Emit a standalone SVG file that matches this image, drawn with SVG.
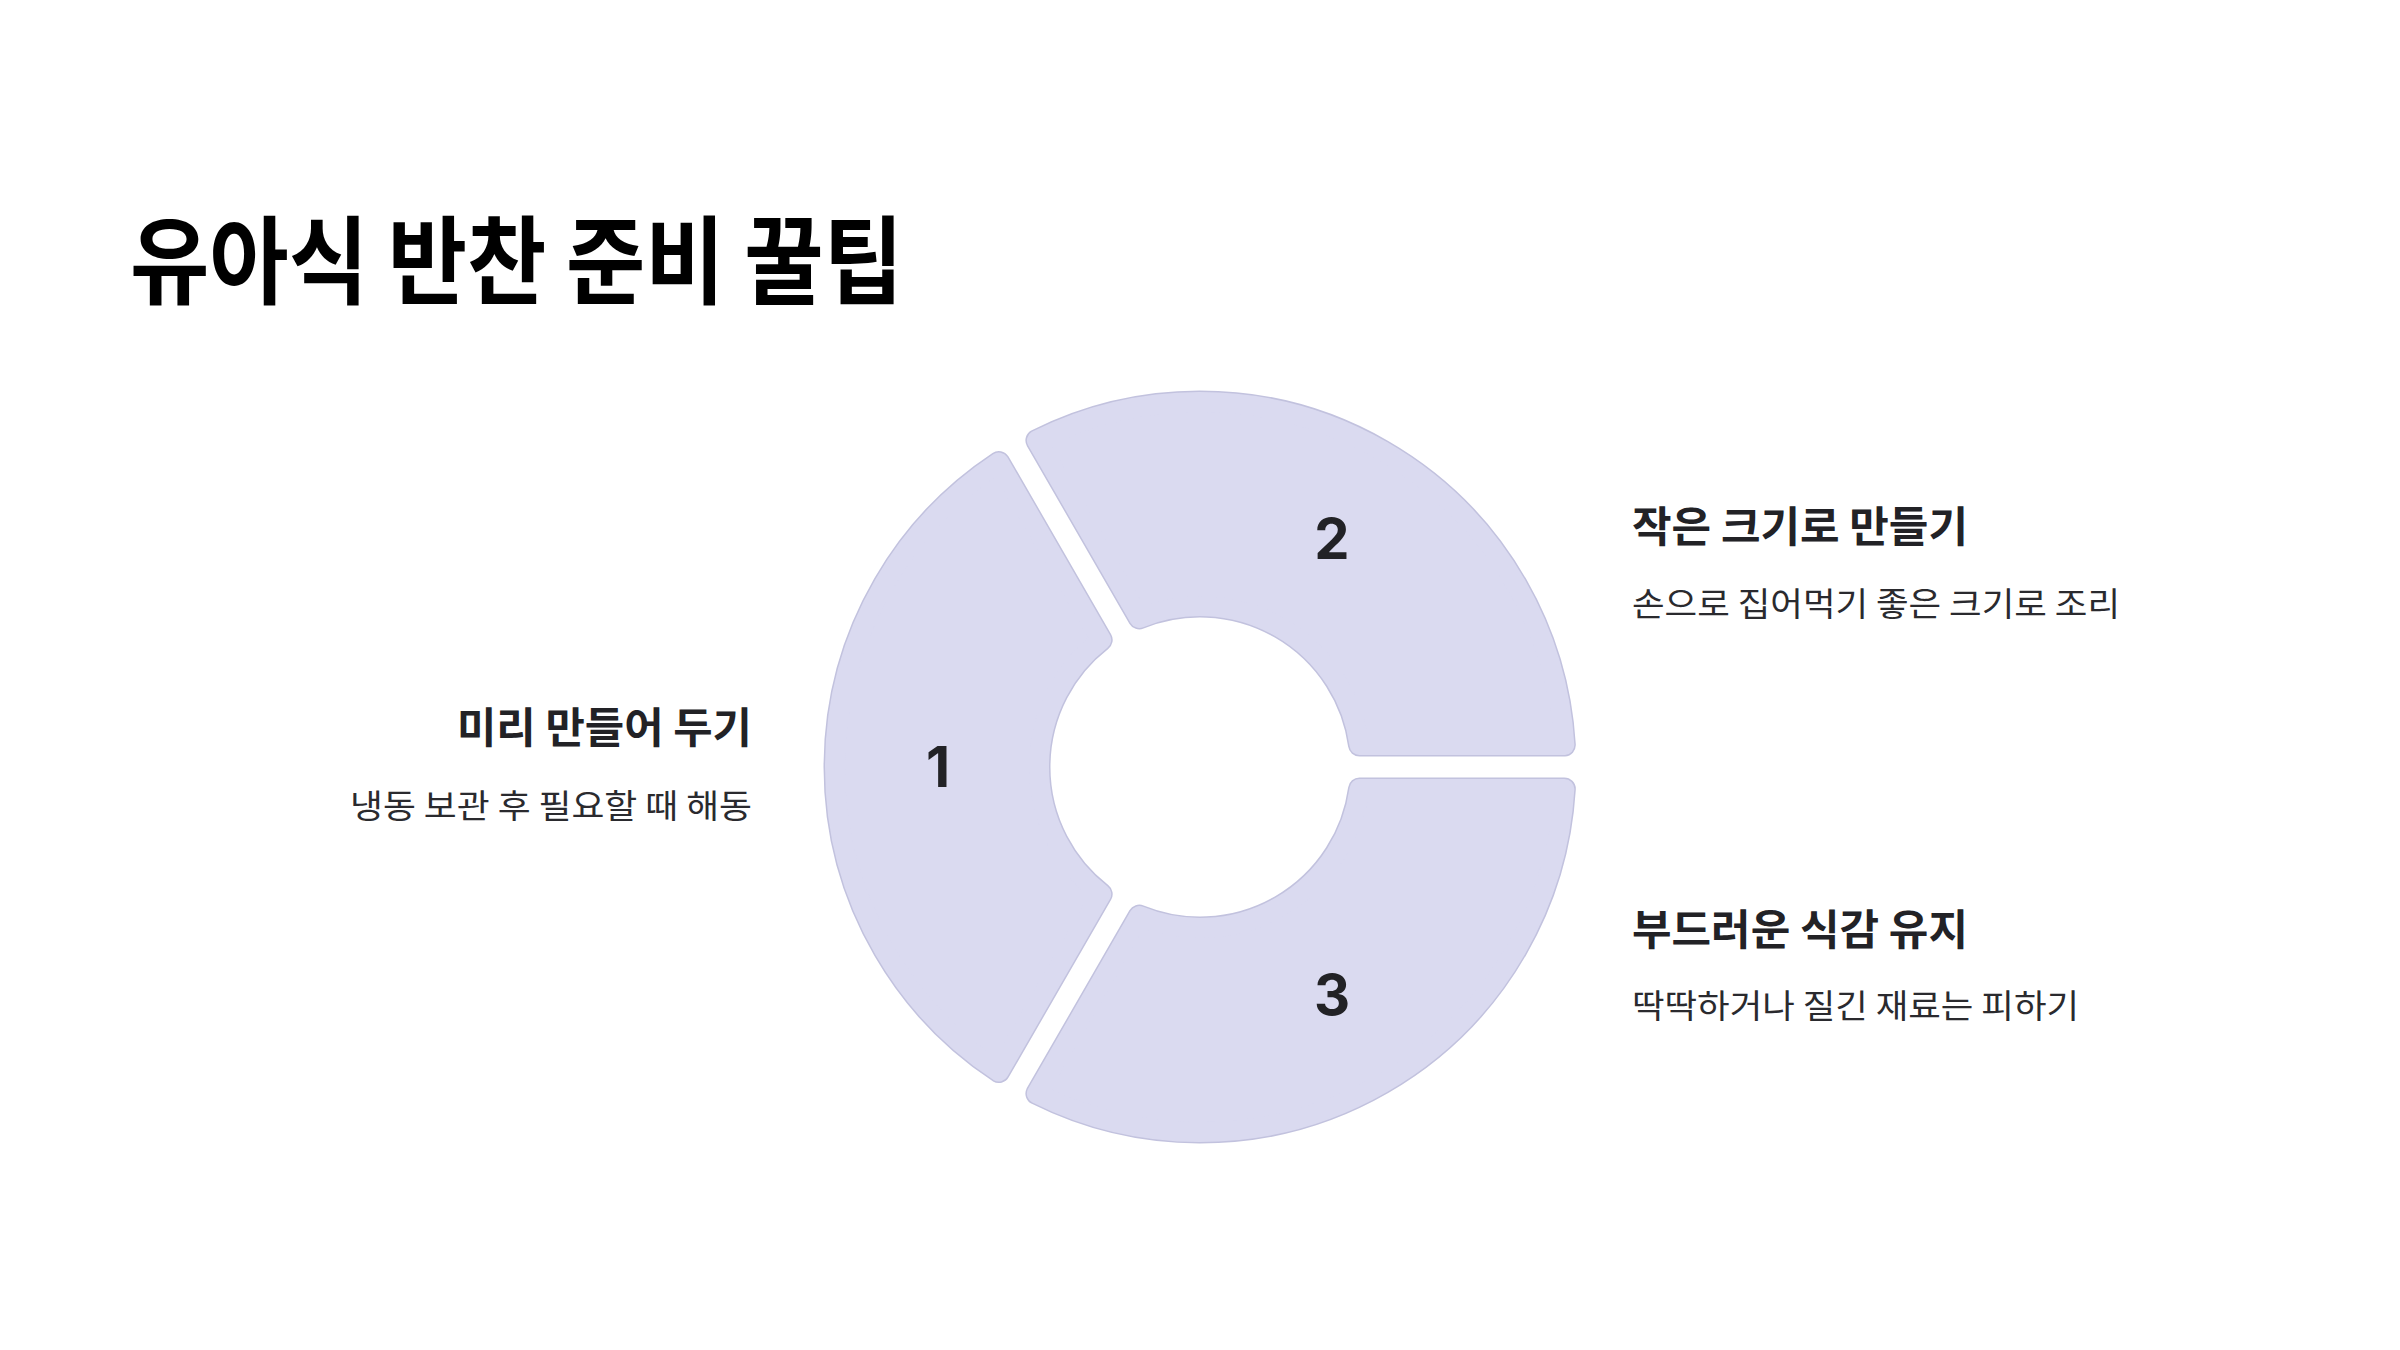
<svg xmlns="http://www.w3.org/2000/svg" width="2400" height="1350" viewBox="0 0 2400 1350">
  <style>
    .seg-outline { fill: #c2c2de; stroke: #c2c2de; stroke-width: 23; stroke-linejoin: round; }
    .seg-fill { fill: #dadaf0; stroke: #dadaf0; stroke-width: 20; stroke-linejoin: round; }
    .num { font-family: Inter, "Noto Sans", sans-serif; font-weight: 700; font-size: 56px; fill: #222226; text-anchor: middle; }
    .title { font-family: "Noto Sans CJK KR", "Noto Sans", sans-serif; font-weight: 700; font-size: 96px; fill: #000000; }
    .head { font-family: "Noto Sans CJK KR", "Noto Sans", sans-serif; font-weight: 700; font-size: 42px; fill: #222226; }
    .sub { font-family: "Noto Sans CJK KR", "Noto Sans", sans-serif; font-weight: 400; font-size: 33px; fill: #2a2a2e; }
  </style>
  <rect width="2400" height="1350" fill="#ffffff"/>
  <text class="title" x="130" y="296" textLength="773" lengthAdjust="spacingAndGlyphs">유아식 반찬 준비 꿀팁</text>

  <g id="node-1">
    <path class="seg-outline" d="M 998.78 1071.52 A 365 365 0 0 1 998.78 462.48 L 1101.2 639.88 A 161 161 0 0 0 1101.2 894.12 Z"/>
    <path class="seg-fill" d="M 998.78 1071.52 A 365 365 0 0 1 998.78 462.48 L 1101.2 639.88 A 161 161 0 0 0 1101.2 894.12 Z"/>
    <text class="num" x="938" y="787">1</text>
    <text class="head" x="752" y="743" text-anchor="end" textLength="295" lengthAdjust="spacingAndGlyphs">미리 만들어 두기</text>
    <text class="sub" x="752" y="818" text-anchor="end" textLength="402" lengthAdjust="spacingAndGlyphs">냉동 보관 후 필요할 때 해동</text>
  </g>

  <g id="node-2">
    <path class="seg-outline" d="M 1036.89 440.48 A 365 365 0 0 1 1564.34 745 L 1359.49 745 A 161 161 0 0 0 1139.31 617.88 Z"/>
    <path class="seg-fill" d="M 1036.89 440.48 A 365 365 0 0 1 1564.34 745 L 1359.49 745 A 161 161 0 0 0 1139.31 617.88 Z"/>
    <text class="num" x="1332" y="559">2</text>
    <text class="head" x="1632" y="542" textLength="336" lengthAdjust="spacingAndGlyphs">작은 크기로 만들기</text>
    <text class="sub" x="1632" y="616" textLength="488" lengthAdjust="spacingAndGlyphs">손으로 집어먹기 좋은 크기로 조리</text>
  </g>

  <g id="node-3">
    <path class="seg-outline" d="M 1564.34 789 A 365 365 0 0 1 1036.89 1093.52 L 1139.31 916.12 A 161 161 0 0 0 1359.49 789 Z"/>
    <path class="seg-fill" d="M 1564.34 789 A 365 365 0 0 1 1036.89 1093.52 L 1139.31 916.12 A 161 161 0 0 0 1359.49 789 Z"/>
    <text class="num" x="1332" y="1015">3</text>
    <text class="head" x="1632" y="945" textLength="336" lengthAdjust="spacingAndGlyphs">부드러운 식감 유지</text>
    <text class="sub" x="1632" y="1018" textLength="447" lengthAdjust="spacingAndGlyphs">딱딱하거나 질긴 재료는 피하기</text>
  </g>

  <g id="connectors"></g>
</svg>
